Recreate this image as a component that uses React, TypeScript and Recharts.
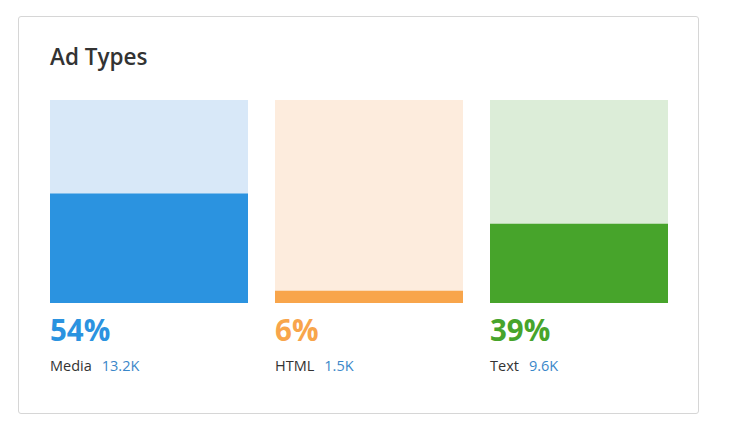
import { BarChart, Bar, XAxis, YAxis } from "recharts";

const categories = ["Media", "HTML", "Text"];
const percents = [54, 6, 39];
const counts = ["13.2K", "1.5K", "9.6K"];

const colors = ["#2b93e0", "#f8a54b", "#47a42b"];
const lightColors = ["#d8e8f8", "#fdecdd", "#dcedd8"];
const lefts = [50, 275, 490];
const widths = [198, 188, 178];

const FONT = "'Open Sans', 'Noto Sans', sans-serif";
const CHART_TOP = 100;
const CHART_H = 203;

const AdColumn = ({ i }: { i: number }) => {
  const data = [{ name: categories[i], value: percents[i] }];
  return (
    <div style={{ position: "absolute", left: lefts[i], top: 0 }}>
      <div style={{ position: "absolute", left: 0, top: CHART_TOP }}>
        <BarChart width={widths[i]} height={CHART_H} data={data} margin={{ top: 0, right: 0, left: 0, bottom: 0 }} barCategoryGap={0}>
          <XAxis dataKey="name" hide />
          <YAxis domain={[0, 100]} hide />
          <Bar dataKey="value" fill={colors[i]} background={{ fill: lightColors[i] }} isAnimationActive={false} />
        </BarChart>
      </div>
      <div
        style={{
          position: "absolute",
          left: 0,
          top: 315,
          fontSize: 29.5,
          lineHeight: "29px",
          fontWeight: 700,
          color: colors[i],
          whiteSpace: "nowrap",
        }}
      >
        {percents[i]}%
      </div>
      <div style={{ position: "absolute", left: 0, top: 359, fontSize: 14.5, lineHeight: "14px", whiteSpace: "nowrap" }}>
        <span style={{ color: "#333" }}>{categories[i]}</span>
        <span style={{ color: "#3a87c9", marginLeft: 10 }}>{counts[i]}</span>
      </div>
    </div>
  );
};

export default function App() {
  return (
    <div style={{ position: "absolute", left: 0, top: 0, width: 732, height: 427, background: "#fff", fontFamily: FONT }}>
      <div
        style={{
          position: "absolute",
          left: 18,
          top: 16,
          width: 679,
          height: 396,
          border: "1px solid #d6d6d6",
          borderRadius: 3,
        }}
      />
      <div
        style={{
          position: "absolute",
          left: 50,
          top: 46,
          fontSize: 22.5,
          lineHeight: "22px",
          fontWeight: 600,
          color: "#333",
          whiteSpace: "nowrap",
        }}
      >
        Ad Types
      </div>
      {categories.map((_, i) => (
        <AdColumn key={i} i={i} />
      ))}
    </div>
  );
}
